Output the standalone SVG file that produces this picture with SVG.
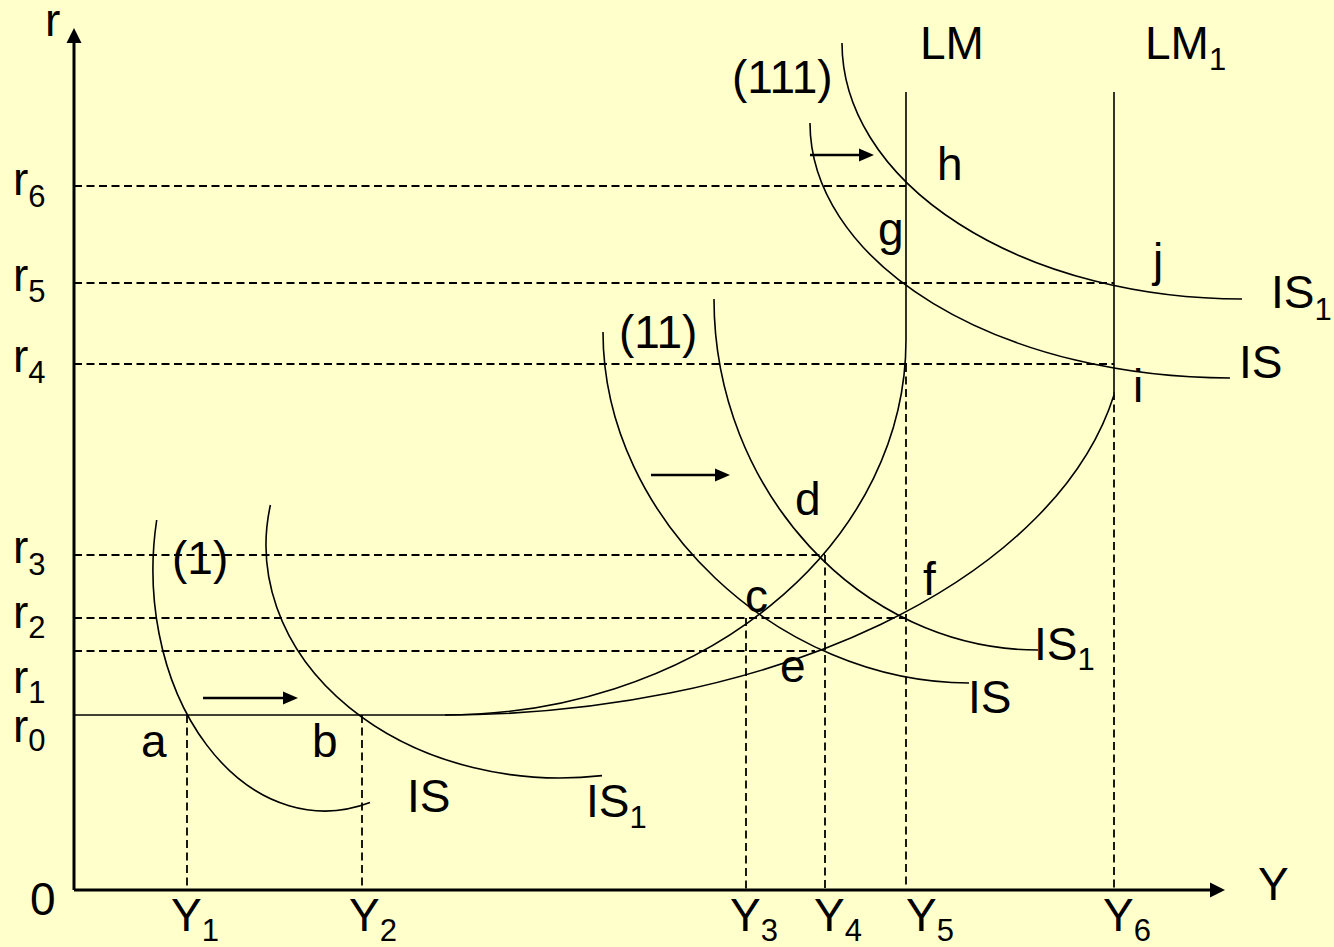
<svg xmlns="http://www.w3.org/2000/svg" width="1334" height="947" viewBox="0 0 1334 947">
<style>
.t{font-family:"Liberation Sans",Arial,sans-serif;font-size:46px;fill:#000}
.s{font-size:31px}
.ax{stroke:#000;stroke-width:3;fill:none}
.cv{stroke:#000;stroke-width:1.6;fill:none}
.ds{stroke:#000;stroke-width:1.8;fill:none;stroke-dasharray:8 4.5}
.ar{stroke:#000;stroke-width:2.5;fill:none}
</style>
<defs>
<marker id="ah" viewBox="0 -8 16 16" refX="0" refY="0" markerWidth="16" markerHeight="16" markerUnits="userSpaceOnUse" orient="auto"><path d="M0,-7.5 L15,0 L0,7.5 z" fill="#000"/></marker>
<marker id="sh" viewBox="0 -8 16 16" refX="0" refY="0" markerWidth="16" markerHeight="16" markerUnits="userSpaceOnUse" orient="auto"><path d="M0,-6.5 L15,0 L0,6.5 z" fill="#000"/></marker>
</defs>
<rect x="0" y="0" width="1334" height="947" fill="#FFFFCC"/>

<g id="guides">
<path class="ds" d="M74,186H906M74,283H1114M74,364H1114M74,555H825M74,618H906M74,651H815"/>
<path class="ds" d="M187,715V890M362,715V890M746,618V890M825,555V890M906,364V890M1114,392V890"/>
</g>

<g id="axes">
<path class="ax" d="M74,890V43" marker-end="url(#ah)"/>
<path class="ax" d="M74,890H1210" marker-end="url(#ah)"/>
</g>

<g id="curves">
<path id="r0" class="cv" d="M74,715H445"/>
<path id="LM" class="cv" d="M445,715A461,375 0 0 0 906,340V92"/>
<path id="LM1" class="cv" d="M445,715A680,390 0 0 0 1114,394.9"/>
<path id="LM1v" class="cv" d="M1114,92V392"/>
<path id="IS-1" class="cv" d="M156.7,520A172,241 0 0 0 370,802.6"/>
<path id="IS1-1" class="cv" d="M270.4,505A294,233 0 0 0 602,775.6"/>
<path id="IS-2" class="cv" d="M603,332C603,520 780,683 969,683"/>
<path id="IS1-2" class="cv" d="M714,299C714,490 860,650 1038,650"/>
<path id="IS-3" class="cv" d="M810,123A420,255 0 0 0 1230,378"/>
<path id="IS1-3" class="cv" d="M842,43A400,256 0 0 0 1242,299"/>
</g>

<g id="connectors">
<path class="ar" d="M203,698H283" marker-end="url(#sh)"/>
<path class="ar" d="M651,475H715" marker-end="url(#sh)"/>
<path class="ar" d="M810,155H859" marker-end="url(#sh)"/>
</g>

<g id="axis-labels">
<text class="t" x="45" y="36">r</text>
<text class="t" x="30" y="915">0</text>
<text class="t" x="1258" y="900">Y</text>
<text class="t" x="13" y="195">r<tspan class="s" dy="12">6</tspan></text>
<text class="t" x="13" y="291">r<tspan class="s" dy="11">5</tspan></text>
<text class="t" x="13" y="372">r<tspan class="s" dy="11">4</tspan></text>
<text class="t" x="13" y="563">r<tspan class="s" dy="12">3</tspan></text>
<text class="t" x="13" y="628">r<tspan class="s" dy="10">2</tspan></text>
<text class="t" x="13" y="693">r<tspan class="s" dy="10">1</tspan></text>
<text class="t" x="13" y="742">r<tspan class="s" dy="9">0</tspan></text>
<text class="t" x="171" y="931">Y<tspan class="s" dy="10">1</tspan></text>
<text class="t" x="349" y="931">Y<tspan class="s" dy="10">2</tspan></text>
<text class="t" x="730" y="931">Y<tspan class="s" dy="10">3</tspan></text>
<text class="t" x="814" y="931">Y<tspan class="s" dy="10">4</tspan></text>
<text class="t" x="906" y="931">Y<tspan class="s" dy="10">5</tspan></text>
<text class="t" x="1103" y="931">Y<tspan class="s" dy="10">6</tspan></text>
</g>

<g id="panel-1">
<text class="t" x="172" y="574">(1)</text>
<text class="t" x="141" y="757">a</text>
<text class="t" x="312" y="757">b</text>
<text class="t" x="407" y="812">IS</text>
<text class="t" x="586" y="817">IS<tspan class="s" dy="11">1</tspan></text>
</g>

<g id="panel-2">
<text class="t" x="619" y="348">(11)</text>
<text class="t" x="745" y="612">c</text>
<text class="t" x="795" y="515">d</text>
<text class="t" x="780" y="682">e</text>
<text class="t" x="923" y="595">f</text>
<text class="t" x="1034" y="660">IS<tspan class="s" dy="10">1</tspan></text>
<text class="t" x="968" y="713">IS</text>
</g>

<g id="panel-3">
<text class="t" x="732" y="93">(111)</text>
<text class="t" x="920" y="59">LM</text>
<text class="t" x="1145" y="59">LM<tspan class="s" dy="11">1</tspan></text>
<text class="t" x="937" y="180">h</text>
<text class="t" x="878" y="245">g</text>
<text class="t" x="1153" y="276">j</text>
<text class="t" x="1133" y="402">i</text>
<text class="t" x="1271" y="308">IS<tspan class="s" dy="12">1</tspan></text>
<text class="t" x="1239" y="378">IS</text>
</g>
</svg>
